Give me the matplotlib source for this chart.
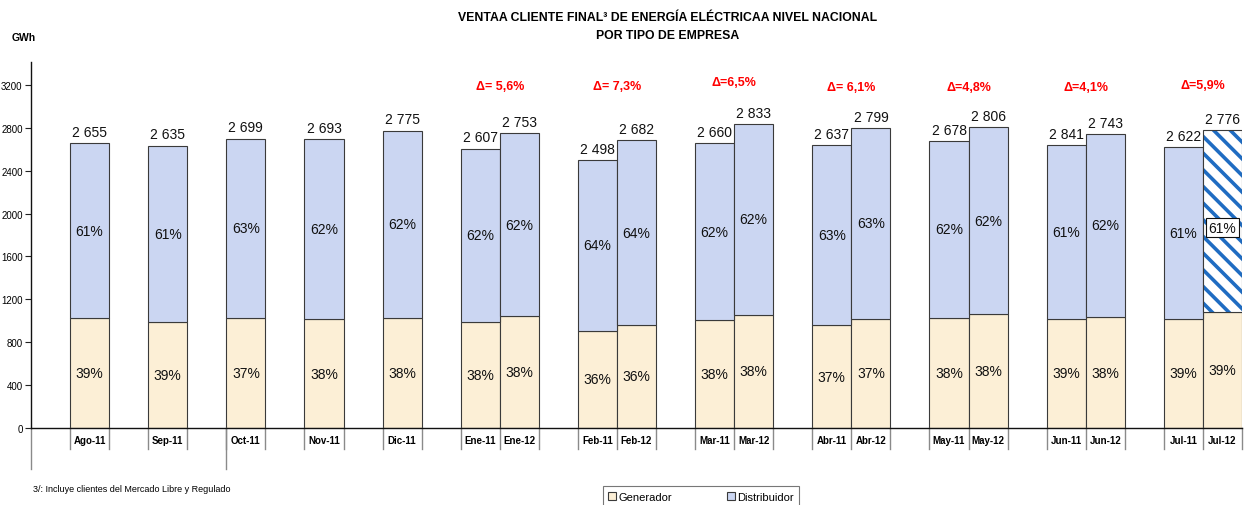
import matplotlib
matplotlib.use("Agg")
import matplotlib.pyplot as plt
import matplotlib.transforms as mtransforms
from matplotlib import font_manager
from matplotlib.patches import Patch

_names = {f.name for f in font_manager.fontManager.ttflist}
_NARROW = "Liberation Sans Narrow" if "Liberation Sans Narrow" in _names else "Liberation Sans"
plt.rcParams["font.family"] = [_NARROW, "Liberation Sans", "DejaVu Sans"]
plt.rcParams["hatch.linewidth"] = 2.6

_GEN    = "#FCEFD6"
_DIST   = "#CBD6F2"
_EDGE   = "#3A3A3A"
_RED    = "#FF0000"
_STRIPE = "#1F6CC2"

# ── Data ──
categories = ["Ago-11", "Sep-11", "Oct-11", "Nov-11", "Dic-11",
              "Ene-11", "Ene-12", "Feb-11", "Feb-12", "Mar-11", "Mar-12",
              "Abr-11", "Abr-12", "May-11", "May-12", "Jun-11", "Jun-12",
              "Jul-11", "Jul-12"]
# slot index of each bar on the category axis (blank slots separate groups)
slots = [1, 3, 5, 7, 9, 11, 12, 14, 15, 17, 18, 20, 21, 23, 24, 26, 27, 29, 30]
totals = [2655, 2635, 2699, 2693, 2775, 2607, 2753, 2498, 2682, 2660, 2833,
          2637, 2799, 2678, 2806, 2641, 2743, 2622, 2776]
total_labels = ["2 655", "2 635", "2 699", "2 693", "2 775", "2 607", "2 753",
                "2 498", "2 682", "2 660", "2 833", "2 637", "2 799", "2 678",
                "2 806", "2 841", "2 743", "2 622", "2 776"]
generador = [1029, 986, 1029, 1014, 1029, 989, 1042, 908, 961, 1005, 1057,
             958, 1017, 1026, 1063, 1017, 1035, 1017, 1082]
gen_pct = ["39%", "39%", "37%", "38%", "38%", "38%", "38%", "36%", "36%",
           "38%", "38%", "37%", "37%", "38%", "38%", "39%", "38%", "39%", "39%"]
dist_pct = ["61%", "61%", "63%", "62%", "62%", "62%", "62%", "64%", "64%",
            "62%", "62%", "63%", "63%", "62%", "62%", "61%", "62%", "61%", "61%"]
delta_slots = [11.5, 14.5, 17.5, 20.5, 23.5, 26.5, 29.5]
delta_labels = ["Δ= 5,6%", "Δ= 7,3%", "Δ=6,5%", "Δ= 6,1%", "Δ=4,8%",
                "Δ=4,1%", "Δ=5,9%"]
delta_y = [3190, 3190, 3225, 3180, 3180, 3180, 3200]

distribuidor = [t - g for t, g in zip(totals, generador)]

W, H = 1256, 506
fig = plt.figure(figsize=(W / 100, H / 100), dpi=100)
fig.patch.set_facecolor("white")
ax = fig.add_axes([31 / W, 1 - 429 / H, 1211 / W, 366 / H])

ax.bar(slots, generador, width=1.0, color=_GEN, edgecolor=_EDGE, linewidth=0.8,
       zorder=2)
dist_bars = ax.bar(slots[:-1], distribuidor[:-1], bottom=generador[:-1],
                   width=1.0, color=_DIST, edgecolor=_EDGE, linewidth=0.8,
                   zorder=2)
# last bar: blue stripes on white, dark outline drawn on top
ax.bar(slots[-1:], distribuidor[-1:], bottom=generador[-1:], width=1.0,
       color="white", edgecolor=_STRIPE, linewidth=0, hatch="\\\\", zorder=2)
ax.bar(slots[-1:], distribuidor[-1:], bottom=generador[-1:], width=1.0,
       color="none", edgecolor=_EDGE, linewidth=0.8, zorder=2.5)

for i, s in enumerate(slots):
    ax.annotate(total_labels[i], (s, totals[i]), xytext=(0, 3),
                textcoords="offset points", ha="center", va="bottom",
                fontsize=10, color="#111111")
    ax.text(s, generador[i] / 2, gen_pct[i], ha="center", va="center",
            fontsize=10, color="#111111", zorder=3)
    box = None
    if i == len(slots) - 1:
        box = dict(boxstyle="square,pad=0.2", facecolor="white",
                   edgecolor="#111111", linewidth=0.8)
    ax.text(s, generador[i] + distribuidor[i] / 2 - (60 if box else 0),
            dist_pct[i], ha="center", va="center", fontsize=10,
            color="#111111", bbox=box, zorder=3)

for x, lab, yv in zip(delta_slots, delta_labels, delta_y):
    ax.text(x, yv, lab, ha="center", va="center", fontsize=9,
            fontweight="bold", color=_RED)

ax.set_xlim(-0.5, 30.5)
ax.set_ylim(0, 3414)
ax.set_yticks(range(0, 3201, 400))
ax.tick_params(axis="y", labelsize=7, length=4, direction="out",
               color="#222222", pad=2)
ax.set_xticks(slots)
ax.set_xticklabels(categories, fontsize=7, fontweight="bold")
ax.tick_params(axis="x", length=0, pad=5)
for sp in ("top", "right"):
    ax.spines[sp].set_visible(False)
ax.spines["left"].set_color("#111111")
ax.spines["bottom"].set_color("#111111")
ax.spines["left"].set_linewidth(1.0)
ax.spines["bottom"].set_linewidth(1.0)

# category separator lines below the axis
trans = mtransforms.blended_transform_factory(ax.transData, ax.transAxes)
edges = sorted({s - 0.5 for s in slots} | {s + 0.5 for s in slots})
for e in edges:
    ax.plot([e, e], [0, -21 / 366], transform=trans, color="#8A8A8A",
            lw=1.0, clip_on=False)
for e in (-0.5, 4.5):
    ax.plot([e, e], [0, -41 / 366], transform=trans, color="#8A8A8A",
            lw=1.0, clip_on=False)

fig.text(668 / W, 1 - 18 / H, "VENTAA CLIENTE FINAL³ DE ENERGÍA ELÉCTRICAA NIVEL NACIONAL",
         ha="center", va="center", fontsize=8.8, fontweight="bold")
fig.text(668 / W, 1 - 36 / H, "POR TIPO DE EMPRESA",
         ha="center", va="center", fontsize=8.8, fontweight="bold")
fig.text(12 / W, 1 - 38 / H, "GWh", ha="left", va="center", fontsize=7.5,
         fontweight="bold")
fig.text(33 / W, 1 - 490 / H, "3/: Incluye clientes del Mercado Libre y Regulado",
         ha="left", va="center", fontsize=6.5)

handles = [Patch(facecolor=_GEN, edgecolor=_EDGE, linewidth=0.8, label="Generador"),
           Patch(facecolor=_DIST, edgecolor=_EDGE, linewidth=0.8, label="Distribuidor")]
leg = fig.legend(handles=handles, loc="upper center",
                 bbox_to_anchor=(701 / W, 1 - 487 / H), ncol=2, fontsize=8,
                 frameon=True, fancybox=False, handlelength=0.7,
                 handleheight=0.7, handletextpad=0.2, columnspacing=5.0,
                 borderpad=0.5, borderaxespad=0)
leg.get_frame().set_edgecolor("#555555")
leg.get_frame().set_linewidth(0.8)

fig.savefig("out.png", dpi=100, facecolor="white")
